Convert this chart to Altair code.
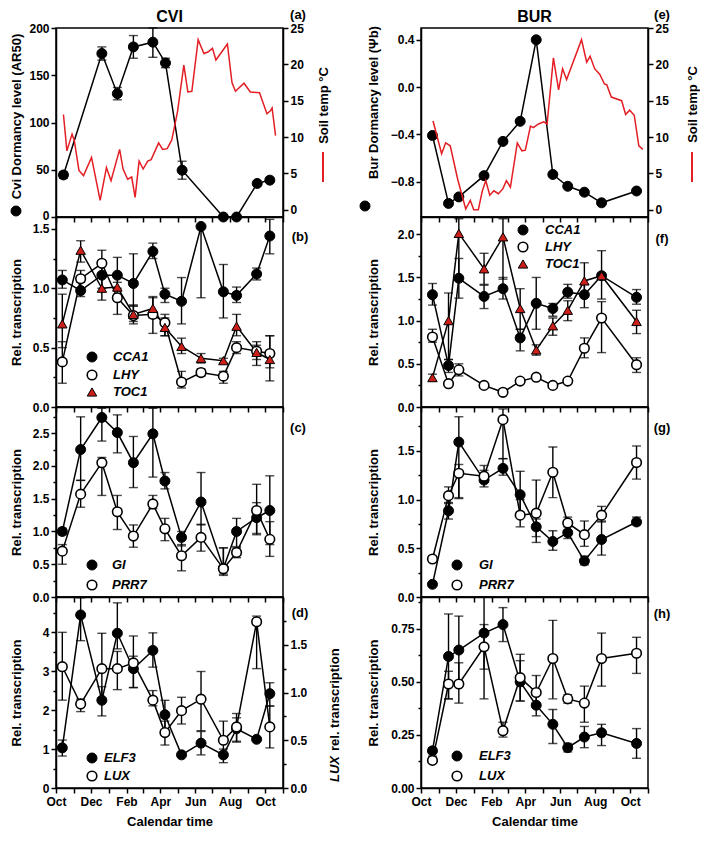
import altair as alt
import pandas as pd

FONT = "Liberation Sans"
RED = "#e31e24"
TRI_RED = "#cc1f1a"

# ---- x axis: days after 1 October ----
MONTH_TICKS = [0, 31, 61, 92, 123, 151, 182, 212, 243, 273, 304, 335, 365, 396]
MONTH_LABEL_DAYS = [0, 61, 123, 182, 243, 304, 365]
MONTH_NAMES = ["Oct", "Dec", "Feb", "Apr", "Jun", "Aug", "Oct"]

# ================= CVI =================
CVI_TEMP_DAYS = [13, 19, 28, 32, 40, 48, 62, 77, 88, 96, 111, 117, 125, 132, 138, 145, 152, 160, 166,
                 179, 186, 194, 202, 212, 223, 230, 237, 248, 258, 265, 273, 279, 299, 307, 313, 328,
                 339, 355, 368, 374, 377, 383]
CVI_TEMP = [13.1, 8.1, 10.4, 9.5, 5.4, 4.7, 7.2, 1.3, 5.8, 4.0, 8.3, 5.6, 4.2, 4.5, 1.7, 6.7, 5.6, 6.7, 6.9,
            9.2, 8.3, 8.4, 9.6, 13.5, 19.9, 16.2, 16.3, 23.4, 21.5, 21.7, 22.2, 20.6, 22.8, 17.5, 16.3, 17.4,
            16.2, 16.1, 13.2, 13.6, 14.0, 10.2]

CVI_DORM_DAYS = [13, 80, 107, 135, 169, 191, 220, 292, 315, 351, 373]
CVI_DORM = [44.5, 173, 130.5, 180, 185, 163, 49.5, 0, 0, 35.5, 39]
CVI_DORM_LO = [41, 166, 124, 168, 169, 158, 40, None, None, None, None]
CVI_DORM_HI = [48, 180, 137, 192, 200, 168, 59, None, None, None, None]

CVI_DAYS = [11, 43, 80, 107, 135, 169, 190, 219, 253, 292, 315, 350, 373]
CVI_CCA1 = [1.07, 0.98, 1.11, 1.11, 1.04, 1.31, 0.95, 0.89, 1.52, 0.97, 0.94, 1.12, 1.44]
CVI_CCA1_LO = [1.00, 0.93, 1.00, 0.98, 0.85, 1.25, 0.88, 0.70, 0.92, 0.75, 0.88, 1.07, 1.29]
CVI_CCA1_HI = [1.15, 1.05, 1.22, 1.26, 1.29, 1.38, 1.00, 1.09, 1.52, 1.20, 1.01, 1.17, 1.58]
CVI_LHY = [0.38, 1.08, 1.21, 0.92, 0.77, 0.78, 0.71, 0.21, 0.29, 0.26, 0.50, 0.47, 0.45]
CVI_LHY_LO = [0.20, 1.00, 1.10, 0.78, 0.70, 0.62, 0.60, 0.16, 0.26, 0.20, 0.45, 0.35, 0.33]
CVI_LHY_HI = [0.55, 1.15, 1.32, 1.00, 0.86, 0.93, 0.78, 0.30, 0.32, 0.30, 0.55, 0.55, 0.60]
CVI_TOC1 = [0.70, 1.32, 1.00, 1.01, 0.78, 0.83, 0.67, 0.51, 0.41, 0.39, 0.68, 0.46, 0.40]
CVI_TOC1_LO = [0.50, 1.22, 0.90, 0.95, 0.72, 0.75, 0.60, 0.45, 0.37, 0.37, 0.60, 0.40, 0.22]
CVI_TOC1_HI = [0.95, 1.40, 1.10, 1.05, 0.85, 0.92, 0.75, 0.58, 0.45, 0.41, 0.78, 0.52, 0.60]

CVI_GI = [1.00, 2.25, 2.74, 2.51, 2.05, 2.49, 1.77, 0.91, 1.45, 0.44, 1.00, 1.21, 1.32]
CVI_GI_LO = [0.95, 1.78, 2.38, 2.20, 1.67, 1.83, 1.65, 0.78, 1.10, 0.33, 0.77, 0.97, 0.80]
CVI_GI_HI = [1.05, 2.75, 2.88, 2.78, 2.45, 2.88, 1.90, 1.00, 1.90, 0.75, 1.20, 1.44, 1.85]
CVI_PRR7 = [0.70, 1.57, 2.05, 1.30, 0.93, 1.42, 1.04, 0.63, 0.91, 0.43, 0.68, 1.32, 0.88]
CVI_PRR7_LO = [0.50, 1.37, 1.55, 1.03, 0.76, 1.35, 0.86, 0.40, 0.70, 0.35, 0.60, 0.95, 0.62]
CVI_PRR7_HI = [0.80, 1.78, 2.13, 1.55, 1.10, 1.55, 1.20, 0.80, 1.11, 0.75, 0.75, 1.72, 1.15]

CVI_ELF3 = [1.03, 4.44, 2.25, 3.97, 3.06, 3.53, 1.88, 0.85, 1.15, 0.85, 1.52, 1.25, 2.42]
CVI_ELF3_LO = [0.82, 3.78, 1.85, 3.57, 2.58, 3.10, 1.50, None, 0.85, 0.65, 1.20, None, 2.10]
CVI_ELF3_HI = [1.23, 4.88, 2.60, 4.75, 3.90, 3.98, 2.25, None, 1.45, 1.00, 1.80, None, 2.70]
CVI_LUX = [1.27, 0.88, 1.25, 1.25, 1.31, 0.92, 0.58, 0.81, 0.93, 0.50, 0.64, 1.74, 0.64]
CVI_LUX_LO = [0.92, 0.80, 0.94, 1.03, 1.05, 0.86, 0.45, 0.67, 0.60, 0.35, 0.48, 1.25, 0.42]
CVI_LUX_HI = [1.63, 0.93, 1.62, 1.43, 1.38, 1.02, 0.70, 0.95, 1.22, 0.70, 0.78, 1.80, 0.86]

# ================= BUR =================
BUR_TEMP_DAYS = [21, 36, 43, 51, 64, 78, 86, 92, 100, 107, 113, 120, 127, 135, 143, 149, 156, 168, 176,
                 182, 191, 196, 205, 214, 220, 231, 240, 247, 254, 280, 289, 295, 303, 312, 320, 324,
                 332, 350, 357, 364, 372, 380, 387]
BUR_TEMP = [12.2, 7.7, 9.2, 8.8, 4.2, 0.1, 1.3, 0.0, 0.0, 2.6, 4.0, 2.0, 2.6, 2.2, 2.9, 4.0, 3.1, 9.2, 8.1,
            8.2, 11.5, 11.3, 11.8, 12.1, 11.8, 20.9, 16.5, 19.4, 17.9, 23.4, 20.3, 21.1, 19.4, 18.6, 17.3,
            17.2, 15.5, 15.0, 13.1, 13.7, 13.0, 8.8, 8.3]

BUR_DAYS = [20, 48, 66, 110, 143, 173, 201, 230, 256, 285, 315, 376]
BUR_DORM = [-0.41, -0.985, -0.93, -0.75, -0.46, -0.29, 0.40, -0.74, -0.84, -0.89, -0.98, -0.88]

BUR_CCA1 = [1.30, 0.48, 1.49, 1.28, 1.37, 0.80, 1.20, 1.14, 1.33, 1.30, 1.52, 1.27]
BUR_CCA1_LO = [1.18, 0.40, 1.26, 1.14, 1.25, 0.65, 0.90, 1.05, 1.26, 1.15, 1.50, 1.19]
BUR_CCA1_HI = [1.43, 0.55, 1.72, 1.41, 1.50, 0.90, 1.50, 1.20, 1.42, 1.42, 1.55, 1.36]
BUR_LHY = [0.81, 0.27, 0.43, 0.25, 0.17, 0.30, 0.345, 0.25, 0.30, 0.68, 1.03, 0.49]
BUR_LHY_LO = [0.75, 0.24, 0.36, None, None, None, None, None, None, 0.57, 0.63, 0.40]
BUR_LHY_HI = [0.90, 0.30, 0.50, None, None, None, None, None, None, 0.80, 1.22, 0.57]
BUR_TOC1 = [0.34, 1.00, 2.01, 1.60, 1.97, 1.14, 0.66, 0.94, 1.12, 1.46, 1.52, 0.99]
BUR_TOC1_LO = [0.30, 0.55, 1.50, 1.42, 1.48, 0.90, 0.60, 0.83, 1.00, 1.30, 1.25, 0.85]
BUR_TOC1_HI = [0.38, 1.32, 2.18, 1.78, 2.18, 1.37, 0.72, 1.03, 1.23, 1.67, 1.81, 1.12]

BUR_GI = [0.13, 0.885, 1.59, 1.20, 1.32, 1.05, 0.72, 0.57, 0.66, 0.37, 0.59, 0.77]
BUR_GI_LO = [None, 0.80, 1.01, 1.13, 1.25, 0.87, 0.56, 0.48, 0.60, 0.33, 0.43, 0.74]
BUR_GI_HI = [None, 0.97, 1.85, 1.30, 1.42, 1.29, 0.80, 0.68, 0.72, 0.42, 0.78, 0.82]
BUR_PRR7 = [0.39, 1.04, 1.27, 1.24, 1.82, 0.84, 0.86, 1.28, 0.76, 0.64, 0.84, 1.38]
BUR_PRR7_LO = [None, 0.96, 1.02, 1.18, 1.42, 0.72, 0.62, 1.02, 0.68, 0.52, 0.77, 1.21]
BUR_PRR7_HI = [None, 1.13, 1.36, 1.35, 1.93, 1.00, 1.20, 1.54, 0.82, 0.78, 0.93, 1.55]

BUR_ELF3 = [0.175, 0.62, 0.65, 0.73, 0.77, 0.50, 0.39, 0.30, 0.19, 0.24, 0.26, 0.21]
BUR_ELF3_LO = [0.15, 0.42, 0.50, 0.56, 0.69, 0.41, 0.34, 0.21, 0.17, 0.19, 0.20, 0.14]
BUR_ELF3_HI = [0.19, 0.82, 0.81, 0.90, 0.85, 0.60, 0.44, 0.37, 0.21, 0.29, 0.30, 0.28]
BUR_LUX = [0.13, 0.49, 0.49, 0.665, 0.27, 0.52, 0.45, 0.61, 0.42, 0.40, 0.61, 0.635]
BUR_LUX_LO = [None, 0.42, 0.40, 0.42, 0.24, 0.41, 0.40, 0.42, 0.40, 0.31, 0.48, 0.54]
BUR_LUX_HI = [None, 0.55, 0.59, 0.77, 0.31, 0.63, 0.53, 0.79, 0.44, 0.48, 0.73, 0.71]

# ---- y tick values ----
TICKS_DORM_CVI = [0, 50, 100, 150, 200]
TICKS_TEMP = [0, 5, 10, 15, 20, 25]
TICKS_DORM_BUR = [-0.8, -0.4, 0.0, 0.4]
TICKS_B = [i * 0.25 for i in range(7)]
TICKS_C = [i * 0.25 for i in range(12)]
TICKS_D = [i * 0.5 for i in range(10)]
TICKS_D_LUX = [i * 0.25 for i in range(8)]
TICKS_F = [i * 0.25 for i in range(9)]
TICKS_G = [i * 0.25 for i in range(8)]
TICKS_H = [i * 0.125 for i in range(8)]

# ---- layout ----
W = 227
H = [189, 190, 190, 191]
LTX = -40   # left-column y title offset
XSCALE = alt.Scale(domain=[0, 396], nice=False, zero=False)
ONE = pd.DataFrame({"k": [0]})

STYLE = {
    "filled": dict(shape="circle", size=100, filled=True, fill="black", stroke="black", strokeWidth=1, opacity=1),
    "open": dict(shape="circle", size=92, filled=True, fill="white", stroke="black", strokeWidth=1.6, opacity=1),
    "tri": dict(shape="triangle-up", size=90, filled=True, fill=TRI_RED, stroke="black", strokeWidth=1, opacity=1),
}


def xenc(bottom):
    expr = "".join(f"datum.value == {d} ? '{n}' : " for d, n in zip(MONTH_LABEL_DAYS, MONTH_NAMES)) + "''"
    if bottom:
        axis = alt.Axis(values=MONTH_TICKS, labelExpr=expr, labelFlush=False, labelOverlap=False,
                        title="Calendar time", titlePadding=8, labelPadding=3, tickSize=5)
    else:
        axis = alt.Axis(values=MONTH_TICKS, labels=False, title=None, tickSize=5)
    return alt.X("day:Q", scale=XSCALE, axis=axis)


def yaxis(values, major, fmt, title=None, orient="left", tx=None, ty=None, angle=270, lift_zero=False):
    test = f"abs(datum.value / {major} - round(datum.value / {major})) > 0.001"
    kw = dict(values=values, orient=orient,
              labelExpr=f"{test} ? '' : format(datum.value, '{fmt}')",
              tickSize={"condition": {"test": test, "value": 3}, "value": 5},
              labelFlush=False, labelOverlap=False)
    if lift_zero:
        kw["labelOffset"] = {"condition": {"test": "datum.value == 0", "value": -2}, "value": 0}
    if title:
        kw.update(title=title, titleX=tx, titleBaseline="middle", titleAlign="center", titleAngle=angle)
        if ty is not None:
            kw["titleY"] = ty
    else:
        kw["title"] = None
    return alt.Axis(**kw)


def make_yf(domain, axis):
    scale = alt.Scale(domain=domain, nice=False, zero=False)
    return lambda f: alt.Y(f"{f}:Q", scale=scale, axis=axis)


def series(days, vals, lo, hi, kind, X, Yf, color="black"):
    df = pd.DataFrame({"day": days, "v": vals})
    line = alt.Chart(df).mark_line(color=color, strokeWidth=1.5).encode(x=X, y=Yf("v"))
    errs = []
    if lo is not None:
        e = pd.DataFrame({"day": days, "lo": lo, "hi": hi}).dropna()
        if len(e):
            errs = [
                alt.Chart(e).mark_rule(color="black", strokeWidth=1.4).encode(x=X, y=Yf("lo"), y2="hi:Q"),
                alt.Chart(e).mark_tick(orient="horizontal", size=9, thickness=1.4, color="black").encode(x=X, y=Yf("lo")),
                alt.Chart(e).mark_tick(orient="horizontal", size=9, thickness=1.4, color="black").encode(x=X, y=Yf("hi")),
            ]
    pts = alt.Chart(df).mark_point(**STYLE[kind]).encode(x=X, y=Yf("v")) if kind else None
    return line, errs, pts


def group(series_list, X, Yf, extras=(), color="black"):
    lines, errs, pts = [], [], []
    for s in series_list:
        l, e, p = series(*s, X=X, Yf=Yf, color=color)
        lines.append(l)
        errs.extend(e)
        if p is not None:
            pts.append(p)
    return alt.layer(*lines, *errs, *pts, *extras)


def txt(s, x, y, size=13, style="normal", align="center", angle=0, color="black"):
    return alt.Chart(ONE).mark_text(text=s, align=align, baseline="middle", font=FONT, fontSize=size,
                                    fontWeight="bold", fontStyle=style, angle=angle, color=color).encode(
        x=alt.value(x), y=alt.value(y))


def sym(kind, x, y):
    return alt.Chart(ONE).mark_point(**STYLE[kind]).encode(x=alt.value(x), y=alt.value(y))


def legend(names, kinds, sx, tx, ys):
    out = []
    for n, k, y in zip(names, kinds, ys):
        out.append(sym(k, sx, y))
        out.append(txt(n, tx, y, style="italic", align="left"))
    return out


def redline(x, y1, y2):
    return alt.Chart(ONE).mark_rule(color=RED, strokeWidth=2).encode(x=alt.value(x), y=alt.value(y1), y2=alt.value(y2))


# ---------- Panel (a) ----------
Xa = xenc(False)
yf_a = make_yf([0, 200], yaxis(TICKS_DORM_CVI, 50, "d", "Cvi Dormancy level (AR50)", tx=LTX, ty=88, lift_zero=True))
yf_at = make_yf([-1, 25], yaxis(TICKS_TEMP, 5, "d", "Soil temp °C", orient="right", tx=40, ty=77))
pa = alt.layer(
    group([(CVI_DORM_DAYS, CVI_DORM, CVI_DORM_LO, CVI_DORM_HI, "filled")], Xa, yf_a,
          [txt("CVI", W / 2, -11, size=16), txt("(a)", W + 15, -13), sym("filled", LTX, 183),
           redline(W + 40, 124, 154)]),
    group([(CVI_TEMP_DAYS, CVI_TEMP, None, None, None)], Xa, yf_at, color=RED),
).resolve_scale(y="independent").properties(width=W, height=H[0])

# ---------- Panel (e) ----------
yf_e = make_yf([-1.1, 0.5], yaxis(TICKS_DORM_BUR, 0.4, ".1f", "Bur Dormancy level (Ψb)", tx=-48, ty=74))
yf_et = make_yf([-1, 25], yaxis(TICKS_TEMP, 5, "d", "Soil temp °C", orient="right", tx=44, ty=76))
pe = alt.layer(
    group([(BUR_DAYS, BUR_DORM, None, None, "filled")], Xa, yf_e,
          [txt("BUR", W / 2, -11, size=16), txt("(e)", W + 14, -13), sym("filled", -56, 178),
           redline(W + 44, 124, 154)]),
    group([(BUR_TEMP_DAYS, BUR_TEMP, None, None, None)], Xa, yf_et, color=RED),
).resolve_scale(y="independent").properties(width=W, height=H[0])

# ---------- Panel (b) ----------
yf_b = make_yf([0, 1.6], yaxis(TICKS_B, 0.5, ".1f", "Rel. transcription", tx=LTX))
pb = group([
    (CVI_DAYS, CVI_CCA1, CVI_CCA1_LO, CVI_CCA1_HI, "filled"),
    (CVI_DAYS, CVI_LHY, CVI_LHY_LO, CVI_LHY_HI, "open"),
    (CVI_DAYS, CVI_TOC1, CVI_TOC1_LO, CVI_TOC1_HI, "tri"),
], Xa, yf_b, legend(["CCA1", "LHY", "TOC1"], ["filled", "open", "tri"], 36, 57, [140, 158, 175])
   + [txt("(b)", W + 17, 20)]).properties(width=W, height=H[1])

# ---------- Panel (f) ----------
yf_f = make_yf([0, 2.2], yaxis(TICKS_F, 0.5, ".1f", "Rel. transcription", tx=-48))
pf = group([
    (BUR_DAYS, BUR_CCA1, BUR_CCA1_LO, BUR_CCA1_HI, "filled"),
    (BUR_DAYS, BUR_LHY, BUR_LHY_LO, BUR_LHY_HI, "open"),
    (BUR_DAYS, BUR_TOC1, BUR_TOC1_LO, BUR_TOC1_HI, "tri"),
], Xa, yf_f, legend(["CCA1", "LHY", "TOC1"], ["filled", "open", "tri"], 102, 124, [13, 30, 47])
   + [txt("(f)", W + 14, 22)]).properties(width=W, height=H[1])

# ---------- Panel (c) ----------
yf_c = make_yf([0, 2.9], yaxis(TICKS_C, 0.5, ".1f", "Rel. transcription", tx=LTX))
pc = group([
    (CVI_DAYS, CVI_GI, CVI_GI_LO, CVI_GI_HI, "filled"),
    (CVI_DAYS, CVI_PRR7, CVI_PRR7_LO, CVI_PRR7_HI, "open"),
], Xa, yf_c, legend(["GI", "PRR7"], ["filled", "open"], 36, 56, [158, 178])
   + [txt("(c)", W + 15, 21)]).properties(width=W, height=H[2])

# ---------- Panel (g) ----------
yf_g = make_yf([0, 1.95], yaxis(TICKS_G, 0.5, ".1f", "Rel. transcription", tx=-48))
pg = group([
    (BUR_DAYS, BUR_GI, BUR_GI_LO, BUR_GI_HI, "filled"),
    (BUR_DAYS, BUR_PRR7, BUR_PRR7_LO, BUR_PRR7_HI, "open"),
], Xa, yf_g, legend(["GI", "PRR7"], ["filled", "open"], 36, 58, [158, 178])
   + [txt("(g)", W + 14, 21)]).properties(width=W, height=H[2])

# ---------- Panel (d) ----------
Xb = xenc(True)
yf_d = make_yf([0, 4.9], yaxis(TICKS_D, 1, "d", "Rel. transcription", tx=LTX))
yf_dl = make_yf([0, 2.0], yaxis(TICKS_D_LUX, 0.5, ".1f", orient="right"))
pd_ = alt.layer(
    group([(CVI_DAYS, CVI_ELF3, CVI_ELF3_LO, CVI_ELF3_HI, "filled")], Xb, yf_d,
          legend(["ELF3", "LUX"], ["filled", "open"], 36, 48, [161, 179])
          + [txt("(d)", W + 17, 16),
             txt("LUX", W + 52, 185, style="italic", align="left", angle=270),
             txt("rel. transcription", W + 52, 154, align="left", angle=270)]),
    group([(CVI_DAYS, CVI_LUX, CVI_LUX_LO, CVI_LUX_HI, "open")], Xb, yf_dl),
).resolve_scale(y="independent").properties(width=W, height=H[3])

# ---------- Panel (h) ----------
yf_h = make_yf([0, 0.9], yaxis(TICKS_H, 0.25, ".2f", "Rel. transcription", tx=-48))
ph = group([
    (BUR_DAYS, BUR_ELF3, BUR_ELF3_LO, BUR_ELF3_HI, "filled"),
    (BUR_DAYS, BUR_LUX, BUR_LUX_LO, BUR_LUX_HI, "open"),
], Xb, yf_h, legend(["ELF3", "LUX"], ["filled", "open"], 36, 58, [159, 179])
   + [txt("(h)", W + 14, 17)]).properties(width=W, height=H[3])

chart = alt.concat(pa, pe, pb, pf, pc, pg, pd_, ph, columns=2,
                   spacing={"row": 0, "column": 138}, bounds="flush").properties(
    padding={"left": 0, "top": 0, "right": 0, "bottom": 0}
).configure_view(stroke="black", strokeWidth=1.5).configure_axis(
    domainColor="black", domainWidth=1.5, tickColor="black", tickWidth=1.5,
    labelFont=FONT, labelFontSize=12, labelFontWeight="bold", labelColor="black",
    titleFont=FONT, titleFontSize=13, titleFontWeight="bold", titleColor="black",
    grid=False, labelPadding=2,
)

chart.save("out.html", embed_options={"renderer": "svg", "actions": False})
